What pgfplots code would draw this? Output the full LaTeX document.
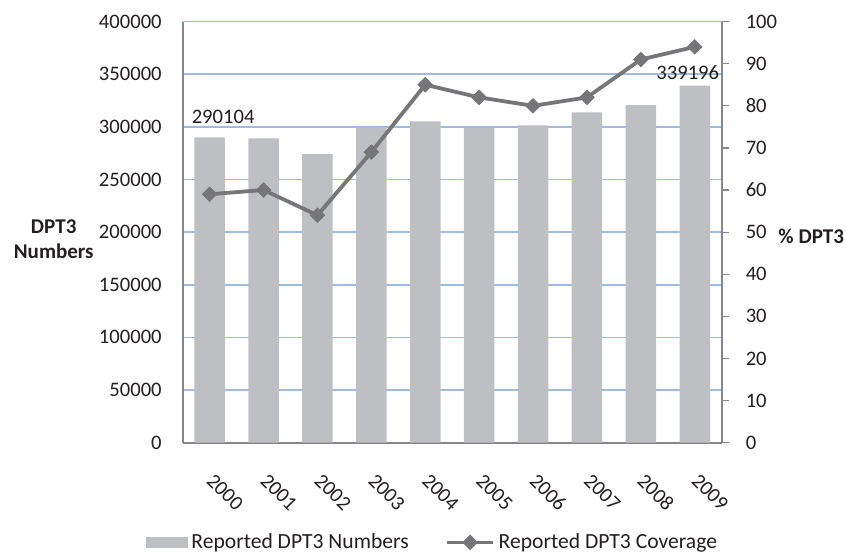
\documentclass[border=0pt]{standalone}
\usepackage{pgfplots}
\pgfplotsset{compat=1.18}
\usepackage{fontspec}
\setmainfont{Carlito}
\definecolor{barcol}{RGB}{190,191,195}
\definecolor{linecol}{RGB}{118,118,121}
\definecolor{gridcol}{RGB}{158,188,226}
\definecolor{axcol}{RGB}{134,134,138}
\definecolor{txtcol}{RGB}{35,31,32}
\begin{document}
\begin{tikzpicture}[font=\fontsize{10.3}{12}\selectfont, text=txtcol]
\begin{axis}[
  scale only axis, width=269.5pt, height=210.5pt,
  xmin=-0.5, xmax=9.5, ymin=0, ymax=400000,
  axis y line*=left, axis x line*=bottom,
  axis line style={axcol, line width=1pt},
  xtick={0,...,9}, xticklabels={2000,2001,2002,2003,2004,2005,2006,2007,2008,2009},
  xtick style={draw=none}, ytick style={draw=none},
  ytick={0,50000,...,400000},
  scaled y ticks=false,
  yticklabel style={xshift=-7pt, /pgf/number format/fixed, /pgf/number format/1000 sep={}, /pgf/number format/assume math mode=true},
  xticklabel style={xshift=2.7pt, yshift=-10pt, rotate=-45, anchor=north west},
  ymajorgrids, grid style={gridcol, line width=0.8pt},
  every axis y label/.style={at={(axis description cs:0,0.5)}, anchor=center, xshift=-64.5pt, yshift=-3.7pt, align=center, font=\fontsize{10.5}{12.5}\selectfont\bfseries},
  ylabel={DPT3\\Numbers},
]
\addplot[ybar, bar width=15.25pt, fill=barcol, draw=none] coordinates {
 (0,290104) (1,289000) (2,274200) (3,299500) (4,305200) (5,298900) (6,301400) (7,313800) (8,320700) (9,339196)};
\node at (axis cs:0.25,309600) {290104};
\node at (axis cs:8.87,351100) {339196};
\coordinate (sw) at (rel axis cs:0,0);
\end{axis}
\begin{axis}[
  scale only axis, width=269.5pt, height=210.5pt,
  xmin=-0.5, xmax=9.5, ymin=0, ymax=100,
  axis y line*=right, axis x line=none,
  axis line style={axcol, line width=1pt},
  ytick={0,10,...,100},
  tick align=outside, major tick length=3.5pt,
  ytick style={axcol, line width=0.6pt},
  yticklabel style={/pgf/number format/assume math mode=true, xshift=5pt},
  every axis y label/.style={at={(axis description cs:1,0.5)}, anchor=center, xshift=44.75pt, yshift=-2pt, font=\fontsize{10.5}{12}\selectfont\bfseries},
  ylabel={\% DPT3},
  legend style={at={(0.465,-0.237)}, anchor=center, draw=none, legend columns=2, fill=none,
    /tikz/every even column/.append style={column sep=16.5pt}, font=\fontsize{10.8}{12}\selectfont},
]
\addlegendimage{legend image code/.code={\fill[barcol] (0pt,-2.6pt) rectangle (20.5pt,2.6pt);}}
\addlegendentry{Reported DPT3 Numbers}
\addplot[linecol, line width=1.9pt, mark=square*, mark size=2.6pt, mark options={rotate=45, fill=linecol, draw=linecol, line width=0.3pt},
  legend image code/.code={\draw[linecol, line width=1.5pt] (0pt,0pt) -- (23pt,0pt); \fill[linecol] (11.5pt,0pt) +(0,2.6pt) -- +(2.6pt,0) -- +(0,-2.6pt) -- +(-2.6pt,0) -- cycle;}] coordinates {
 (0,59) (1,60) (2,54) (3,69) (4,85) (5,82) (6,80) (7,82) (8,91) (9,94)};
\addlegendentry{Reported DPT3 Coverage}
\end{axis}
\pgfresetboundingbox
\path (sw) ++(-91.35pt,-55.7pt) rectangle ++(423pt,277pt);
\end{tikzpicture}
\end{document}
